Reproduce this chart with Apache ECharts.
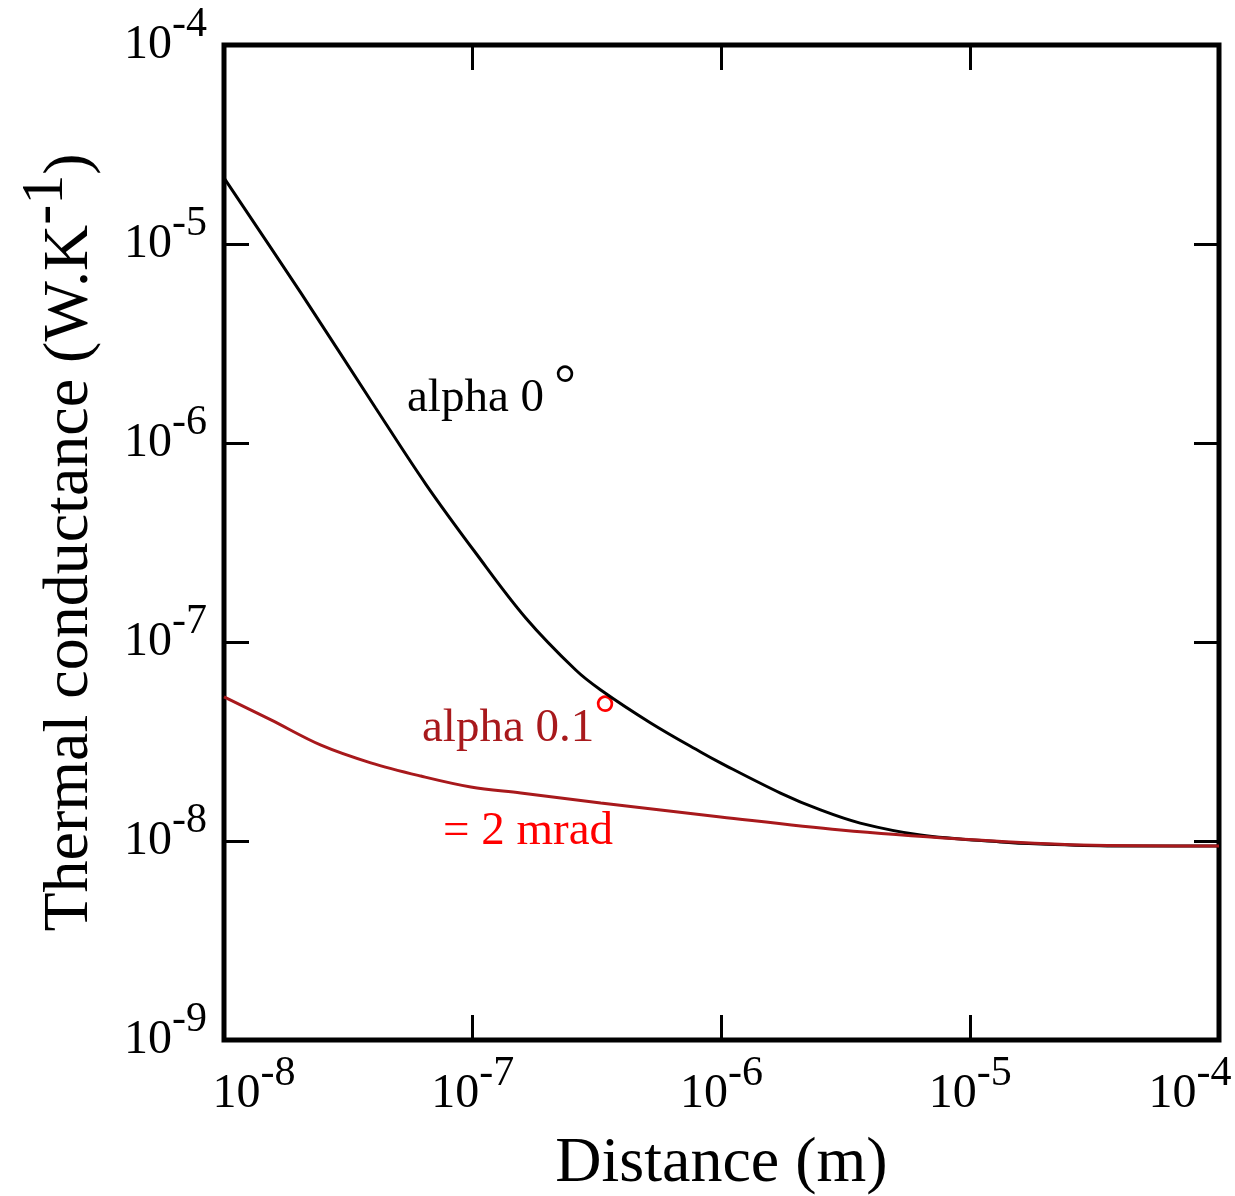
<!DOCTYPE html>
<html>
<head>
<meta charset="utf-8">
<script src="https://cdn.jsdelivr.net/npm/echarts@6/dist/echarts.min.js"></script>
<style>html,body{margin:0;padding:0;background:#fff;}#c{width:1235px;height:1196px;}</style>
</head>
<body>
<div id="c"></div>
<script>
// ---- data ----
const blackX = [1e-8, 2.037e-8, 4.07e-8, 6.47e-8, 1.028e-7, 1.633e-7, 2.594e-7, 3.27e-7, 5.19e-7, 8.24e-7, 9.91e-7, 1.726e-6, 2.50e-6, 3.61e-6, 6.30e-6, 1.318e-5, 1.909e-5, 4.00e-5, 1e-4];
const blackY = [2.148e-5, 5.68e-6, 1.500e-6, 6.22e-7, 2.80e-7, 1.321e-7, 7.23e-8, 5.74e-8, 3.92e-8, 2.80e-8, 2.47e-8, 1.742e-8, 1.432e-8, 1.230e-8, 1.072e-8, 9.89e-9, 9.66e-9, 9.44e-9, 9.44e-9];
const redX = [1e-8, 1.545e-8, 2.455e-8, 3.89e-8, 6.18e-8, 9.82e-8, 1.56e-7, 3.27e-7, 9.91e-7, 3.01e-6, 9.12e-6, 2.77e-5, 1e-4];
const redY = [5.30e-8, 4.06e-8, 3.03e-8, 2.47e-8, 2.12e-8, 1.868e-8, 1.742e-8, 1.552e-8, 1.321e-8, 1.135e-8, 1.023e-8, 9.55e-9, 9.44e-9];
const xTickMin = 1e-8, xTickMax = 1e-4;
const yTickMin = 1e-9, yTickMax = 1e-4;
const xTitle = 'Distance (m)';
const yTitleMain = 'Thermal conductance (W.K';
const yTitleSup = '-1';
const yTitleEnd = ')';
const labelAlpha0 = 'alpha 0';
const labelAlpha01 = 'alpha 0.1';
const labelMrad = '= 2 mrad';
const degree = '°';

const F = '"Liberation Serif", "Times New Roman", serif';
const chart = echarts.init(document.getElementById('c'), null, {renderer: 'canvas'});

function zip(a, b) { return a.map((v, i) => [v, b[i]]); }
function exp10(v) { return Math.round(Math.log10(v)); }

const baseRich = {
  b:  {fontFamily: F, fontSize: 48, lineHeight: 82, color: '#000'},
  bL: {fontFamily: F, fontSize: 48, lineHeight: 82, padding: [0, 0, 0, 60], color: '#000'},
  s:  {fontFamily: F, fontSize: 42, lineHeight: 42, verticalAlign: 'top', color: '#000'},
  sR: {fontFamily: F, fontSize: 42, lineHeight: 42, verticalAlign: 'top', padding: [0, 58, 0, 0], color: '#000'}
};
const tickStyle = {show: true, inside: true, length: 25, lineStyle: {color: '#000', width: 3}};

const option = {
  animation: false,
  backgroundColor: '#fff',
  grid: {left: 224, right: 16, top: 45, bottom: 156, containLabel: false, outerBoundsMode: 'none',
         show: true, borderColor: '#000', borderWidth: 5, backgroundColor: 'transparent'},
  xAxis: [{
    type: 'log', logBase: 10, min: xTickMin, max: xTickMax, position: 'bottom',
    axisLine: {show: false}, axisTick: tickStyle, minorTick: {show: false},
    splitLine: {show: false}, minorSplitLine: {show: false},
    axisLabel: {
      margin: 13, showMinLabel: true, showMaxLabel: true, hideOverlap: false,
      formatter: function (v) {
        const e = exp10(v);
        if (Math.abs(v - xTickMin) / xTickMin < 1e-6) return '{bL|10}{s|' + e + '}';
        if (Math.abs(v - xTickMax) / xTickMax < 1e-6) return '{b|10}{sR|' + e + '}';
        return '{b|10}{s|' + e + '}';
      },
      rich: baseRich
    },
    name: xTitle, nameLocation: 'middle', nameGap: 92, nameMoveOverlap: false,
    nameTextStyle: {fontFamily: F, fontSize: 64, color: '#000'}
  }, {
    type: 'log', logBase: 10, min: xTickMin, max: xTickMax, position: 'top',
    axisLine: {show: false}, axisTick: tickStyle, minorTick: {show: false},
    splitLine: {show: false}, axisLabel: {show: false}
  }],
  yAxis: [{
    type: 'log', logBase: 10, min: yTickMin, max: yTickMax, position: 'left',
    axisLine: {show: false}, axisTick: tickStyle, minorTick: {show: false},
    splitLine: {show: false}, minorSplitLine: {show: false},
    axisLabel: {
      margin: 17, showMinLabel: true, showMaxLabel: true, hideOverlap: false,
      formatter: function (v) { return '{b|10}{s|' + exp10(v) + '}'; },
      rich: baseRich
    },
    name: '{t|' + yTitleMain + '}{u|' + yTitleSup + '}{t|' + yTitleEnd + '}',
    nameLocation: 'middle', nameRotate: 90, nameGap: 122, nameMoveOverlap: false,
    nameTextStyle: {
      rich: {
        t: {fontFamily: F, fontSize: 64, lineHeight: 64, color: '#000'},
        u: {fontFamily: F, fontSize: 60, lineHeight: 60, padding: [0, 0, 48, 0], color: '#000'}
      }
    }
  }, {
    type: 'log', logBase: 10, min: yTickMin, max: yTickMax, position: 'right',
    axisLine: {show: false}, axisTick: tickStyle, minorTick: {show: false},
    splitLine: {show: false}, axisLabel: {show: false}
  }],
  series: [{
    name: 'alpha 0', type: 'line', xAxisIndex: 0, yAxisIndex: 0,
    data: zip(blackX, blackY), showSymbol: false, smooth: 0.35,
    lineStyle: {color: '#000', width: 3}, z: 2
  }, {
    name: 'alpha 0.1', type: 'line', xAxisIndex: 0, yAxisIndex: 0,
    data: zip(redX, redY), showSymbol: false, smooth: 0.35,
    lineStyle: {color: '#a8191c', width: 3}, z: 3
  }],
  graphic: [
    {type: 'text', x: 407, y: 399, style: {text: labelAlpha0, font: '47px ' + F, fill: '#000', align: 'left', verticalAlign: 'middle'}},
    {type: 'text', x: 565, y: 388, style: {text: degree, font: '54px ' + F, fill: '#000', align: 'center', verticalAlign: 'middle'}},
    {type: 'text', x: 422, y: 729, style: {text: labelAlpha01, font: '47px ' + F, fill: '#a8191c', align: 'left', verticalAlign: 'middle'}},
    {type: 'text', x: 605, y: 718, style: {text: degree, font: '54px ' + F, fill: '#ff0000', align: 'center', verticalAlign: 'middle'}},
    {type: 'text', x: 443, y: 832, style: {text: labelMrad, font: '47px ' + F, fill: '#ff0000', align: 'left', verticalAlign: 'middle'}}
  ]
};
chart.setOption(option);
</script>
</body>
</html>
